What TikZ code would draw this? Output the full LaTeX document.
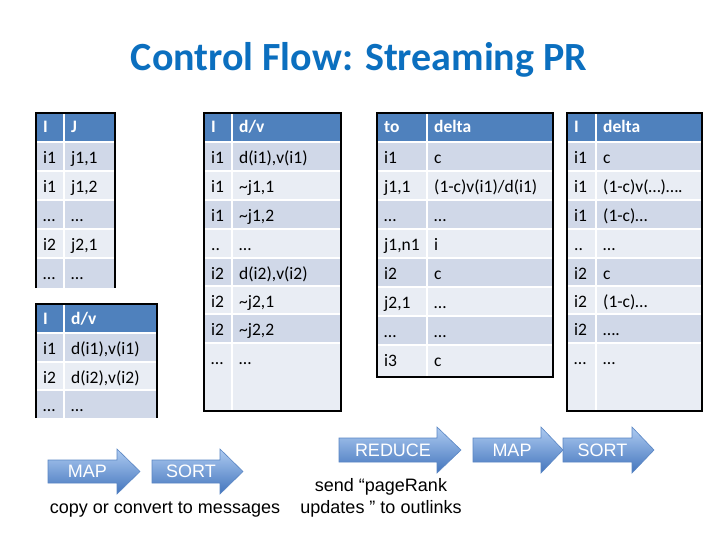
\documentclass[tikz,border=0pt]{standalone}
\usepackage{fontspec}
\setmainfont{Carlito}
\newfontfamily\arialf{Liberation Sans}
\definecolor{hdr}{HTML}{4F81BD}
\definecolor{rowd}{HTML}{D0D8E8}
\definecolor{rowl}{HTML}{E9EDF4}
\definecolor{ttl}{HTML}{0B6FBF}
\definecolor{arT}{HTML}{AECBF1}
\definecolor{arB}{HTML}{4375BD}
\definecolor{arL}{HTML}{5A86C4}
\tikzset{
 celltext/.style={anchor=base west, inner sep=0pt, font=\fontsize{17.5}{20}\selectfont, text=black},
 hdrtext/.style={anchor=base west, inner sep=0pt, font=\fontsize{17.5}{20}\selectfont\bfseries, text=white},
 gap/.style={white, line width=2pt},
 frame/.style={black, line width=1.6pt},
 flow/.style={top color=arT, bottom color=arB, draw=arL, line width=0.6pt},
 flowtext/.style={text=white, font=\arialf\fontsize{18}{20}\selectfont, inner sep=0pt},
 captext/.style={font=\arialf\fontsize{18}{22}\selectfont, align=center, inner sep=0pt, text=black},
}
% #1 name #2 x0 #3 xd #4 x1 #5 ytop #6 ybot #7 fill #8 left #9 right
\newcommand\trow[9]{%
  \fill[#7] (#2,#5) rectangle (#4,#6);
  \node[celltext] (#1a) at ({#2+7},{#5+21.5}) {#8};
  \node[celltext] (#1b) at ({#3+7},{#5+21.5}) {#9};
}
\newcommand\thdr[8]{%
  \fill[hdr] (#2,#5) rectangle (#4,#6);
  \node[hdrtext] (#1a) at ({#2+7},{#5+20}) {#7};
  \node[hdrtext] (#1b) at ({#3+7},{#5+20}) {#8};
}
% #1 name #2 x0 #3 xb #4 xt #5 yc #6 half body #7 half head #8 text
\newcommand\flowarrow[8]{%
  \shade[flow] (#2,{#5-#6}) -- (#3,{#5-#6}) -- (#3,{#5-#7}) -- (#4,#5) -- (#3,{#5+#7}) -- (#3,{#5+#6}) -- (#2,{#5+#6}) -- cycle;
  \node[flowtext] (#1) at ({(#2+#3)/2+5},#5) {#8};
}
\newcommand\tl{\textasciitilde}
\begin{document}
\begin{tikzpicture}[x=1pt,y=-1pt]
\useasboundingbox (0,0) rectangle (720,540);
\fill[white] (0,0) rectangle (720,540);

\node[anchor=base, inner sep=0pt, font=\fontsize{40}{48}\selectfont\bfseries, text=ttl] (title) at (359,71) {Control Flow: Streaming PR};

% ---- Table A : I / J
\thdr{ah}{36}{64}{115}{113}{142}{I}{J}
\trow{a1}{36}{64}{115}{142}{171}{rowd}{i1}{j1,1}
\trow{a2}{36}{64}{115}{171}{200}{rowl}{i1}{j1,2}
\trow{a3}{36}{64}{115}{200}{229}{rowd}{…}{…}
\trow{a4}{36}{64}{115}{229}{258}{rowl}{i2}{j2,1}
\trow{a5}{36}{64}{115}{258}{288}{rowd}{…}{…}
\foreach \y in {142,171,200,229,258} \draw[gap] (36,\y) -- (115,\y);
\draw[gap] (64,113) -- (64,288);
\draw[frame] (36,288) -- (36,113) -- (115,113) -- (115,288);

% ---- Table B : I / d/v (lower left)
\thdr{bh}{36}{64}{157}{304}{333}{I}{d/v}
\trow{b1}{36}{64}{157}{333}{362}{rowd}{i1}{d(i1),v(i1)}
\trow{b2}{36}{64}{157}{362}{390}{rowl}{i2}{d(i2),v(i2)}
\trow{b3}{36}{64}{157}{390}{418}{rowd}{…}{…}
\foreach \y in {333,362,390} \draw[gap] (36,\y) -- (157,\y);
\draw[gap] (64,304) -- (64,418);
\draw[frame] (36,418) -- (36,304) -- (157,304) -- (157,418);

% ---- Table C : I / d/v (middle)
\thdr{ch}{204}{232}{341}{113}{142}{I}{d/v}
\trow{c1}{204}{232}{341}{142}{171}{rowd}{i1}{d(i1),v(i1)}
\trow{c2}{204}{232}{341}{171}{200}{rowl}{i1}{\tl j1,1}
\trow{c3}{204}{232}{341}{200}{229}{rowd}{i1}{\tl j1,2}
\trow{c4}{204}{232}{341}{229}{258}{rowl}{..}{…}
\trow{c5}{204}{232}{341}{258}{286}{rowd}{i2}{d(i2),v(i2)}
\trow{c6}{204}{232}{341}{286}{314}{rowl}{i2}{\tl j2,1}
\trow{c7}{204}{232}{341}{314}{343}{rowd}{i2}{\tl j2,2}
\trow{c8}{204}{232}{341}{343}{411}{rowl}{…}{…}
\foreach \y in {142,171,200,229,258,286,314,343} \draw[gap] (204,\y) -- (341,\y);
\draw[gap] (232,113) -- (232,411);
\draw[frame] (204,113) rectangle (341,411);

% ---- Table D : to / delta
\thdr{dh}{377}{427}{553}{113}{142}{to}{delta}
\trow{d1}{377}{427}{553}{142}{171}{rowd}{i1}{c}
\trow{d2}{377}{427}{553}{171}{200}{rowl}{j1,1}{(1-c)v(i1)/d(i1)}
\trow{d3}{377}{427}{553}{200}{229}{rowd}{…}{…}
\trow{d4}{377}{427}{553}{229}{258}{rowl}{j1,n1}{i}
\trow{d5}{377}{427}{553}{258}{287}{rowd}{i2}{c}
\trow{d6}{377}{427}{553}{287}{316}{rowl}{j2,1}{…}
\trow{d7}{377}{427}{553}{316}{345}{rowd}{…}{…}
\trow{d8}{377}{427}{553}{345}{377}{rowl}{i3}{c}
\foreach \y in {142,171,200,229,258,287,316,345} \draw[gap] (377,\y) -- (553,\y);
\draw[gap] (427,113) -- (427,377);
\draw[frame] (377,113) rectangle (553,377);

% ---- Table E : I / delta
\thdr{eh}{567}{596}{702}{113}{142}{I}{delta}
\trow{e1}{567}{596}{702}{142}{171}{rowd}{i1}{c}
\trow{e2}{567}{596}{702}{171}{200}{rowl}{i1}{(1-c)v(…)….}
\trow{e3}{567}{596}{702}{200}{229}{rowd}{i1}{(1-c)…}
\trow{e4}{567}{596}{702}{229}{258}{rowl}{..}{…}
\trow{e5}{567}{596}{702}{258}{286}{rowd}{i2}{c}
\trow{e6}{567}{596}{702}{286}{314}{rowl}{i2}{(1-c)…}
\trow{e7}{567}{596}{702}{314}{343}{rowd}{i2}{….}
\trow{e8}{567}{596}{702}{343}{411}{rowl}{…}{…}
\foreach \y in {142,171,200,229,258,286,314,343} \draw[gap] (567,\y) -- (702,\y);
\draw[gap] (596,113) -- (596,411);
\draw[frame] (567,113) rectangle (702,411);

% ---- Flow arrows
\flowarrow{mapA}{48}{117}{140}{471.5}{11.5}{22.5}{MAP}
\flowarrow{sortA}{152}{220}{243}{471.5}{11.5}{22.5}{SORT}
\flowarrow{reduceB}{339}{437}{461}{450}{12}{23}{REDUCE}
\flowarrow{mapB}{473}{541}{563}{450}{12}{23}{MAP}
\flowarrow{sortB}{563}{632}{654}{450}{12}{23}{SORT}

\node[captext] (capA) at (165,510) {copy or convert to messages};
\node[captext] (capB) at (381,498) {send “pageRank\\updates ” to outlinks};
\end{tikzpicture}
\end{document}
